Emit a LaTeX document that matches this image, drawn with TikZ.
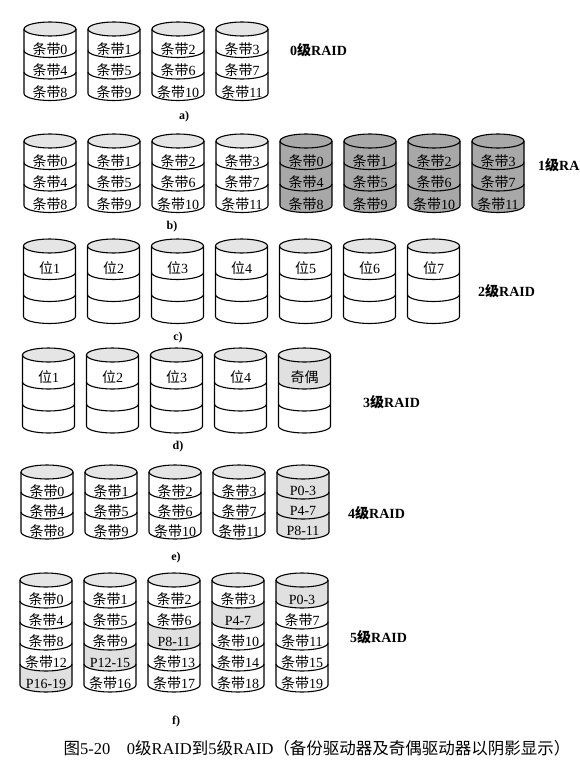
\documentclass[tikz,border=0pt]{standalone}
\usepackage{fontspec}
\setmainfont{Liberation Serif}
\newfontfamily\cjk{Noto Sans CJK SC}
\newcommand{\zh}[1]{{\cjk #1}}
\newcommand{\tiao}[1]{\zh{条带}#1}
\definecolor{topgray}{gray}{0.9}
\definecolor{mirrorgray}{gray}{0.66}
\definecolor{paritygray}{gray}{0.88}
\tikzset{
  diskline/.style={line width=1.1pt, draw=black},
  celltext/.style={font=\fontsize{14}{14}\selectfont, inner sep=0pt},
  raidlabel/.style={font=\fontsize{14}{14}\selectfont\bfseries, anchor=west, inner sep=0pt},
  sublabel/.style={font=\fontsize{12}{12}\selectfont\bfseries, inner sep=0pt},
  captiontext/.style={font=\fontsize{16.5}{16.5}\selectfont, inner sep=0pt},
}
% cx, y of top ellipse centre, first cell height, other cell height, number of cells, top fill
\newcommand{\drum}[6]{%
  \pgfmathsetmacro{\ybot}{#2+#3+(#5-1)*#4}%
  \pgfmathtruncatemacro{\nd}{#5-1}%
  \filldraw[diskline, fill=#6] (#1,-#2) ellipse [x radius=26pt, y radius=7pt];
  \draw[diskline] ({#1-26},{-#2}) -- ({#1-26},{-\ybot})
     arc [start angle=180, end angle=360, x radius=26pt, y radius=7pt] -- ({#1+26},{-#2});
  \foreach \k in {1,...,\nd}{%
    \pgfmathsetmacro{\yd}{#2+#3+(\k-1)*#4}%
    \draw[diskline] ({#1-26},{-\yd}) arc [start angle=180, end angle=360, x radius=26pt, y radius=7pt];
  }%
}
% cx, upper boundary, lower boundary, colour
\newcommand{\shadecell}[4]{%
  \fill[#4] ({#1-26},{-#2}) arc [start angle=180, end angle=360, x radius=26pt, y radius=7pt]
    -- ({#1+26},{-#3}) arc [start angle=0, end angle=-180, x radius=26pt, y radius=7pt] -- cycle;
}
\newcommand{\fcell}[3]{%
  \pgfmathsetmacro{\cx}{46+64*#1}%
  \pgfmathsetmacro{\ty}{580+21*#2+19.5}%
  \node[celltext] (f#1#2) at (\cx,-\ty) {#3};
}
\newcommand{\fshade}[2]{%
  \pgfmathsetmacro{\cx}{46+64*#1}%
  \pgfmathsetmacro{\ya}{580+21*#2}%
  \pgfmathsetmacro{\yz}{580+21*#2+21}%
  \shadecell{\cx}{\ya}{\yz}{paritygray}%
}
\begin{document}
\begin{tikzpicture}[x=1pt,y=1pt]
\useasboundingbox (0,0) rectangle (579,-771);
\clip (0,0) rectangle (579,-771);
\fill[white] (0,0) rectangle (579,-771);

% ---------- a) RAID 0
\foreach \i in {0,...,3}{
  \pgfmathsetmacro{\cx}{50+64*\i}
  \drum{\cx}{29}{21.5}{21.5}{3}{topgray}
  \foreach \r in {0,1,2}{
    \pgfmathtruncatemacro{\num}{\i+4*\r}
    \pgfmathsetmacro{\ty}{29+21.5*\r+19.75}
    \node[celltext] (a\i\r) at (\cx,-\ty) {\tiao{\num}};
  }
}
\node[raidlabel] (la) at (290,-50) {0\zh{级}RAID};
\node[sublabel] (sa) at (184,-117) {a)};

% ---------- b) RAID 1
\foreach \i in {0,...,7}{
  \pgfmathsetmacro{\cx}{50+64*\i}
  \ifnum\i>3
    \shadecell{\cx}{141}{205.5}{mirrorgray}
    \drum{\cx}{141}{21.5}{21.5}{3}{mirrorgray}
  \else
    \drum{\cx}{141}{21.5}{21.5}{3}{topgray}
  \fi
  \foreach \r in {0,1,2}{
    \pgfmathtruncatemacro{\num}{mod(\i,4)+4*\r}
    \pgfmathsetmacro{\ty}{141+21.5*\r+19.75}
    \node[celltext] (b\i\r) at (\cx,-\ty) {\tiao{\num}};
  }
}
\node[raidlabel] (lb) at (538,-165) {1\zh{级}RAID};
\node[sublabel] (sb) at (172,-227) {b)};

% ---------- c) RAID 2
\foreach \i in {0,...,6}{
  \pgfmathsetmacro{\cx}{49.5+64*\i}
  \drum{\cx}{246}{26.5}{22}{3}{topgray}
  \pgfmathtruncatemacro{\num}{\i+1}
  \node[celltext] (c\i) at (\cx,-268.5) {\zh{位}\num};
}
\node[raidlabel] (lc) at (478,-291) {2\zh{级}RAID};
\node[sublabel] (sc) at (178,-338) {c)};

% ---------- d) RAID 3
\shadecell{304.5}{355}{382}{paritygray}
\foreach \i in {0,...,4}{
  \pgfmathsetmacro{\cx}{48.5+64*\i}
  \drum{\cx}{355}{27}{22}{3}{topgray}
}
\foreach \i in {0,...,3}{
  \pgfmathsetmacro{\cx}{48.5+64*\i}
  \pgfmathtruncatemacro{\num}{\i+1}
  \node[celltext] (d\i) at (\cx,-377.5) {\zh{位}\num};
}
\node[celltext] (d4) at (304.5,-377.5) {\zh{奇偶}};
\node[raidlabel] (ld) at (363,-402) {3\zh{级}RAID};
\node[sublabel] (sd) at (178,-447) {d)};

% ---------- e) RAID 4
\shadecell{303}{472}{532}{paritygray}
\foreach \i in {0,...,4}{
  \pgfmathsetmacro{\cx}{47+64*\i}
  \drum{\cx}{472}{20}{20}{3}{topgray}
}
\foreach \i in {0,...,3}{
  \pgfmathsetmacro{\cx}{47+64*\i}
  \foreach \r in {0,1,2}{
    \pgfmathtruncatemacro{\num}{\i+4*\r}
    \pgfmathsetmacro{\ty}{472+20*\r+19}
    \node[celltext] (e\i\r) at (\cx,-\ty) {\tiao{\num}};
  }
}
\node[celltext] (e40) at (303,-491) {P0-3};
\node[celltext] (e41) at (303,-511) {P4-7};
\node[celltext] (e42) at (303,-531) {P8-11};
\node[raidlabel] (le) at (348,-513) {4\zh{级}RAID};
\node[sublabel] (se) at (176,-558) {e)};

% ---------- f) RAID 5
\fshade{4}{0}\fshade{3}{1}\fshade{2}{2}\fshade{1}{3}\fshade{0}{4}
\foreach \i in {0,...,4}{
  \pgfmathsetmacro{\cx}{46+64*\i}
  \drum{\cx}{580}{21}{21}{5}{topgray}
}
\fcell{0}{0}{\tiao{0}}\fcell{0}{1}{\tiao{4}}\fcell{0}{2}{\tiao{8}}\fcell{0}{3}{\tiao{12}}\fcell{0}{4}{P16-19}
\fcell{1}{0}{\tiao{1}}\fcell{1}{1}{\tiao{5}}\fcell{1}{2}{\tiao{9}}\fcell{1}{3}{P12-15}\fcell{1}{4}{\tiao{16}}
\fcell{2}{0}{\tiao{2}}\fcell{2}{1}{\tiao{6}}\fcell{2}{2}{P8-11}\fcell{2}{3}{\tiao{13}}\fcell{2}{4}{\tiao{17}}
\fcell{3}{0}{\tiao{3}}\fcell{3}{1}{P4-7}\fcell{3}{2}{\tiao{10}}\fcell{3}{3}{\tiao{14}}\fcell{3}{4}{\tiao{18}}
\fcell{4}{0}{P0-3}\fcell{4}{1}{\tiao{7}}\fcell{4}{2}{\tiao{11}}\fcell{4}{3}{\tiao{15}}\fcell{4}{4}{\tiao{19}}
\node[raidlabel] (lf) at (350,-637) {5\zh{级}RAID};
\node[sublabel] (sf) at (176,-722) {f)};

% ---------- caption
\node[captiontext] (cap) at (317,-748) {\zh{图}5-20\quad 0\zh{级}RAID\zh{到}5\zh{级}RAID\zh{（备份驱动器及奇偶驱动器以阴影显示）}};
\end{tikzpicture}
\end{document}
